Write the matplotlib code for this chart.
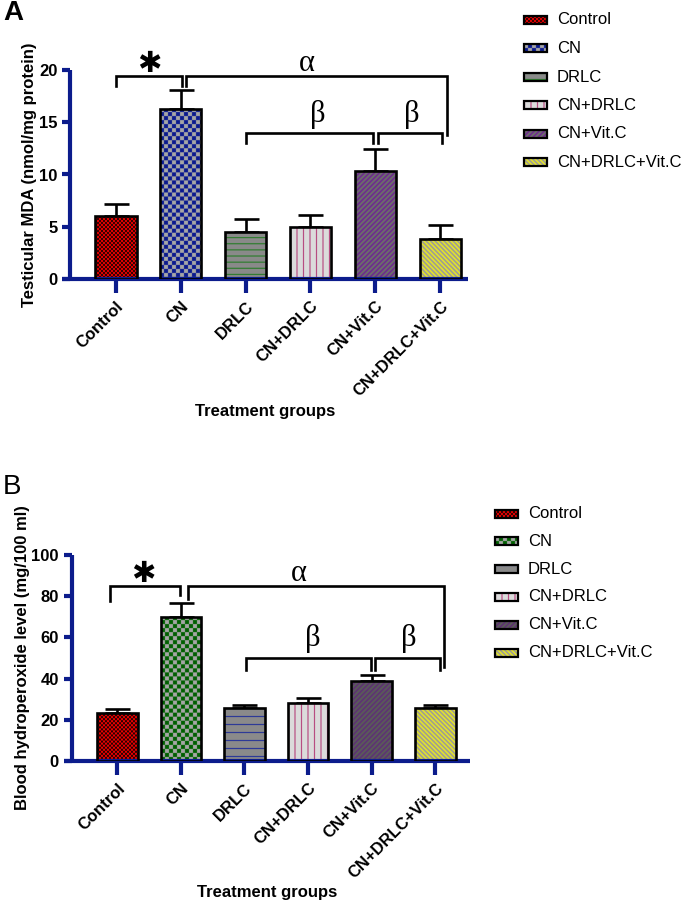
import numpy as np
import matplotlib
matplotlib.use('Agg')
import matplotlib.pyplot as plt
from matplotlib.colors import to_rgb
from matplotlib.patches import Rectangle

plt.rcParams['font.family'] = ['Liberation Sans', 'DejaVu Sans']

# ---------------- data ----------------
groups = ['Control', 'CN', 'DRLC', 'CN+DRLC', 'CN+Vit.C', 'CN+DRLC+Vit.C']
mda_mean = [6.0, 16.3, 4.5, 4.95, 10.3, 3.85]
mda_err = [1.2, 1.75, 1.2, 1.2, 2.1, 1.3]
bhp_mean = [23.5, 70.0, 25.6, 28.0, 38.9, 25.6]
bhp_err = [1.9, 6.5, 1.8, 2.5, 2.9, 1.8]
mda_ticks = [0, 5, 10, 15, 20]
bhp_ticks = [0, 20, 40, 60, 80, 100]

NAVY = '#0c1c8c'
SS = 4  # texture supersampling

# fill patterns (kind, base colour, pattern colour, period px, line width px)
styles_A = [
    ('checker', '#ff0000', '#140000', 2, 0),
    ('checker', '#0b1a8f', '#a6a6a6', 4, 0),
    ('h', '#8a8a8a', '#1f7a1f', 6, 1),
    ('v', '#dcdcdc', '#b03070', 6.5, 1),
    ('up', '#6c6c6c', '#6e2a90', 5, 2.2),
    ('down', '#9a9a9a', '#e6e626', 4.5, 2.2),
]
styles_B = [
    ('checker', '#ff0000', '#140000', 2, 0),
    ('checker', '#006000', '#a6a6a6', 4, 0),
    ('h', '#8a8a8a', '#1a2a9a', 8, 1),
    ('v', '#dcdcdc', '#b03070', 6.5, 1),
    ('up', '#5a5a5a', '#5e3274', 5, 2.2),
    ('down', '#9a9a9a', '#e6e626', 4.5, 2.2),
]


def texture(style, w, h):
    kind, c1, c2, p, lw = style
    i, j = np.mgrid[0:h * SS, 0:w * SS] / SS
    if kind == 'checker':
        m = ((np.floor(i / p) + np.floor(j / p)) % 2) == 0
    elif kind == 'h':
        m = (i % p) < lw
    elif kind == 'v':
        m = (j % p) < lw
    elif kind == 'up':
        m = ((i + j) % p) < lw
    else:
        m = ((j - i) % p) < lw
    a = np.array(to_rgb(c1))
    b = np.array(to_rgb(c2))
    return np.where(m[..., None], b, a)


def fill_patch(ax, patch, style):
    x0, y0, x1, y1 = patch.get_bbox().extents
    (px0, py0), (px1, py1) = ax.transData.transform([(x0, y0), (x1, y1)])
    w = max(1, int(round(abs(px1 - px0))))
    h = max(1, int(round(abs(py1 - py0))))
    im = ax.imshow(texture(style, w, h), extent=(x0, x1, y0, y1), origin='upper',
                   interpolation='antialiased', aspect='auto', zorder=2)
    im.set_clip_path(patch)


W, H = 688, 905
fig = plt.figure(figsize=(W / 100, H / 100), dpi=100)


def panel(rect_px, xlim, yaxis_frac, means, errs, ticks, styles, ylabel, ylabel_x,
          xlabel_y, brackets, symbols):
    l, r, top, bot = rect_px
    ax = fig.add_axes([l / W, 1 - bot / H, (r - l) / W, (bot - top) / H])
    ax.patch.set_alpha(0)
    x = np.arange(len(groups))
    ax.set_xlim(*xlim)
    ax.set_ylim(ticks[0], ticks[-1])
    bars = ax.bar(x, means, width=0.64, facecolor='none', edgecolor='black',
                  linewidth=1.9, zorder=3)
    for b, st in zip(bars, styles):
        fill_patch(ax, b, st)
    ax.errorbar(x, means, yerr=[np.zeros(len(errs)), errs], fmt='none', ecolor='black',
                elinewidth=1.9, capsize=9, capthick=1.9, zorder=1.5)
    ax.set_xlim(*xlim)
    ax.set_ylim(ticks[0], ticks[-1])
    for s in ['top', 'right']:
        ax.spines[s].set_visible(False)
    ax.spines['left'].set_position(('axes', yaxis_frac))
    for s in ['left', 'bottom']:
        ax.spines[s].set_color(NAVY)
        ax.spines[s].set_linewidth(3)
        ax.spines[s].set_capstyle('butt')
    ax.set_yticks(ticks)
    ax.set_xticks(x)
    ax.set_xticklabels(groups, rotation=45, ha='right', va='top',
                       rotation_mode='anchor', fontsize=12, fontweight='bold')
    for t in ax.get_yticklabels():
        t.set_fontweight('bold')
        t.set_fontsize(12)
    ax.tick_params(axis='y', length=6, width=3, color=NAVY, pad=3)
    ax.tick_params(axis='x', length=10, width=3, color=NAVY, pad=4)
    ax.set_ylabel(ylabel, fontsize=12, fontweight='bold')
    ax.yaxis.set_label_coords(ylabel_x, 0.5)
    ax.set_xlabel('Treatment groups', fontsize=12, fontweight='bold')
    ax.xaxis.set_label_coords(0.5, xlabel_y)
    for xl, xr, yt, yl, yr in brackets:
        ax.plot([xl, xl, xr, xr], [yl, yt, yt, yr], color='black', lw=1.9,
                clip_on=False, solid_joinstyle='miter', zorder=4)
    for sx, sy, s in symbols:
        if s == '*':
            ax.text(sx, sy, '\u2731', fontsize=21, family='DejaVu Sans', ha='center',
                    va='center', clip_on=False)
        else:
            ax.text(sx, sy, s, fontsize=22, family='Liberation Serif', ha='center',
                    va='center', clip_on=False)
    return ax


axA = panel((62, 468, 70, 279), (-0.829, 5.427), 8 / 406, mda_mean, mda_err, mda_ticks,
            styles_A, 'Testicular MDA (nmol/mg protein)', -0.062, -0.60,
            [(0.0, 1.02, 19.4, 18.5, 18.5), (1.08, 5.11, 19.4, 18.5, 13.8),
             (2.01, 3.96, 14.0, 13.05, 13.05), (4.04, 5.03, 14.0, 13.05, 13.05)],
            [(0.51, 20.6, '*'), (2.94, 20.6, '\u03b1'), (3.12, 15.7, '\u03b2'),
             (4.56, 15.7, '\u03b2')])

axB = panel((64, 470, 555, 761), (-0.838, 5.546), 7.5 / 406, bhp_mean, bhp_err, bhp_ticks,
            styles_B, 'Blood hydroperoxide level (mg/100 ml)', -0.084, -0.60,
            [(-0.11, 0.98, 84.9, 77.6, 80.5), (1.11, 5.14, 84.9, 78.4, 45.7),
             (2.03, 3.99, 50.2, 44.0, 44.0), (4.06, 5.07, 50.2, 44.3, 44.3)],
            [(0.41, 91, '*'), (2.85, 91, '\u03b1'), (3.08, 59.5, '\u03b2'),
             (4.59, 59.5, '\u03b2')])

fig.text(3 / W, 1 - 13 / H, 'A', fontsize=20, fontweight='bold', va='center', ha='left')
fig.text(3 / W, 1 - 487 / H, 'B', fontsize=20, va='center', ha='left')

# ---------------- legends (pixel coordinates overlay) ----------------
leg = fig.add_axes([0, 0, 1, 1])
leg.set_xlim(0, W)
leg.set_ylim(H, 0)
leg.axis('off')
leg.patch.set_alpha(0)


def legend_block(x_patch, x_text, y0, dy, styles):
    for k, (g, st) in enumerate(zip(groups, styles)):
        yc = y0 + k * dy
        rect = Rectangle((x_patch, yc - 4), 23, 8, facecolor='none', edgecolor='black',
                         lw=1.6, zorder=3)
        leg.add_patch(rect)
        im = leg.imshow(texture(st, 23, 8), extent=(x_patch, x_patch + 23, yc + 4, yc - 4),
                        origin='upper', interpolation='antialiased', aspect='auto', zorder=2)
        im.set_clip_path(rect)
        leg.text(x_text, yc, g, fontsize=12, va='center', ha='left')


legend_block(523.5, 557, 20, 28.5, styles_A)
legend_block(494.5, 528, 513.5, 27.8, styles_B)
leg.set_xlim(0, W)
leg.set_ylim(H, 0)

fig.savefig('out.png', dpi=100)
